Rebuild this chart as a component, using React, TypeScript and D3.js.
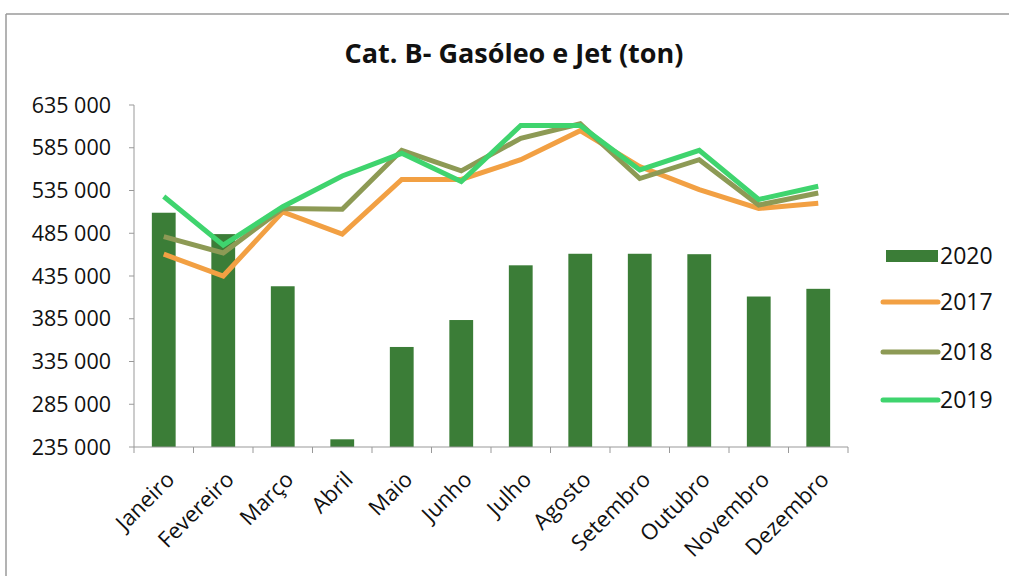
import React from "react";
import * as d3 from "d3";

const months = ["Janeiro","Fevereiro","Março","Abril","Maio","Junho","Julho","Agosto","Setembro","Outubro","Novembro","Dezembro"];
const v2020 = [509000, 484000, 423000, 244000, 352000, 383500, 447500, 461000, 461000, 460500, 411000, 420000];
const v2017 = [460500, 435000, 510000, 484000, 548000, 548000, 571000, 605000, 563000, 536000, 514000, 520000];
const v2018 = [481000, 462000, 514000, 513000, 582000, 558000, 596000, 613000, 549000, 571000, 518000, 532000];
const v2019 = [528000, 471000, 516000, 552000, 578500, 545500, 611000, 611000, 559000, 582000, 524500, 540000];
const yTicks = [235000, 285000, 335000, 385000, 435000, 485000, 535000, 585000, 635000];

const lineSeries = [
  { name: "2017", values: v2017, color: "#f2a043" },
  { name: "2018", values: v2018, color: "#8d9a55" },
  { name: "2019", values: v2019, color: "#3fd46e" },
];

export default function App() {
  const W = 1009, H = 576;
  const left = 134, right = 848, top = 105, bottom = 447;
  const x = d3.scaleBand<string>().domain(months).range([left, right]).paddingInner(0.6).paddingOuter(0.3);
  const xb = d3.scaleBand<string>().domain(months).range([left, right]);
  const y = d3.scaleLinear().domain([235000, 635000]).range([bottom, top]);
  const line = d3.line<number>().x((_, i) => (xb(months[i]) as number) + xb.bandwidth() / 2).y((d) => y(d));
  const fmt = (v: number) => d3.format(",")(v).replace(/,/g, " ");
  const font = "'Open Sans', Lato, sans-serif";
  const legendY = [256, 302, 352, 400];

  return (
    <svg width={W} height={H} style={{ position: "absolute", left: 0, top: 0, background: "#fff" }} fontFamily={font}>
      <rect x={0} y={0} width={W} height={H} fill="#fff" />
      <line x1={6} y1={14} x2={W} y2={14} stroke="#9a9a9a" strokeWidth={1.5} />
      <line x1={6} y1={14} x2={6} y2={H} stroke="#9a9a9a" strokeWidth={1.5} />
      <text x={514} y={63} textAnchor="middle" fontSize={27} fontWeight="bold" fill="#111">Cat. B- Gasóleo e Jet (ton)</text>
      {/* y axis */}
      <line x1={left} y1={top} x2={left} y2={bottom} stroke="#999" strokeWidth={1} />
      {yTicks.map((t) => (
        <g key={t}>
          <line x1={left - 5} x2={left} y1={y(t)} y2={y(t)} stroke="#999" />
          <text x={111} y={y(t)} dy="0.35em" textAnchor="end" fontSize={21.5} fill="#111">{fmt(t)}</text>
        </g>
      ))}
      {/* bars */}
      {months.map((m, i) => (
        <rect key={m} x={x(m)} y={y(v2020[i])} width={x.bandwidth()} height={bottom - y(v2020[i])} fill="#3b7d37" />
      ))}
      {/* x axis */}
      <line x1={left} y1={bottom} x2={right} y2={bottom} stroke="#999" strokeWidth={1} />
      {[...months.map((m) => xb(m) as number), right].map((px, i) => (
        <line key={i} x1={px} x2={px} y1={bottom} y2={bottom + 6} stroke="#999" />
      ))}
      {months.map((m) => {
        const cx = (xb(m) as number) + xb.bandwidth() / 2 + 12;
        return (
          <text key={m} transform={`translate(${cx},${bottom + 34}) rotate(-45)`} textAnchor="end" fontSize={22} fill="#111">{m}</text>
        );
      })}
      {/* lines */}
      {lineSeries.map((s) => (
        <path key={s.name} d={line(s.values) as string} fill="none" stroke={s.color} strokeWidth={5} strokeLinejoin="miter" />
      ))}
      {/* legend */}
      <rect x={886} y={legendY[0] - 6} width={52} height={12} fill="#3b7d37" />
      <text x={940} y={legendY[0]} dy="0.35em" fontSize={23} fill="#111">2020</text>
      {lineSeries.map((s, i) => (
        <g key={s.name}>
          <line x1={883} x2={938} y1={legendY[i + 1]} y2={legendY[i + 1]} stroke={s.color} strokeWidth={5} strokeLinecap="round" />
          <text x={940} y={legendY[i + 1]} dy="0.35em" fontSize={23} fill="#111">{s.name}</text>
        </g>
      ))}
    </svg>
  );
}
